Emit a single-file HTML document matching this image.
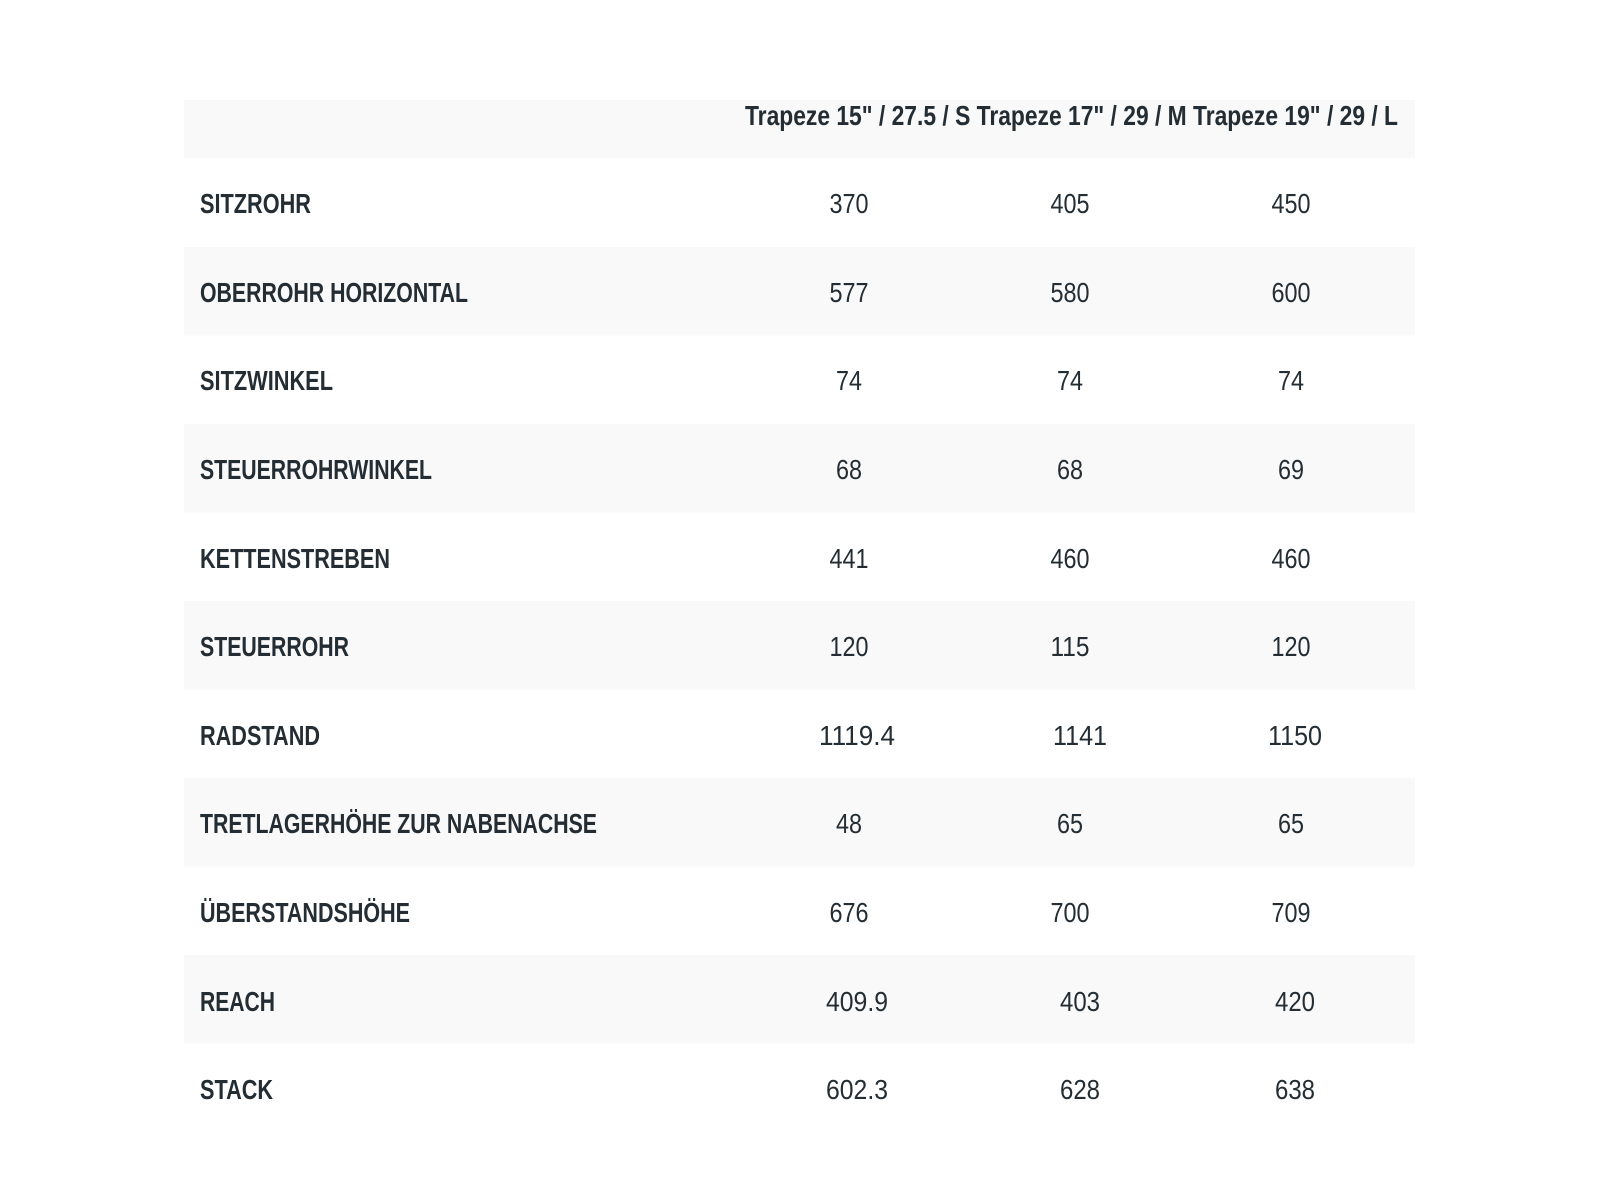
<!DOCTYPE html>
<html><head><meta charset="utf-8"><style>
html,body{margin:0;padding:0;background:#fff;width:1600px;height:1200px;overflow:hidden}
svg{display:block}
text{font-family:"Liberation Sans Narrow","Liberation Sans",sans-serif;fill:#232d33;font-size:28px}
.b{font-weight:bold}
</style></head><body>
<svg width="1600" height="1200" xmlns="http://www.w3.org/2000/svg">
<rect x="0" y="0" width="1600" height="1200" fill="#fff"/>
<rect x="184" y="100" width="1231" height="58" fill="#f9f9f9"/>
<rect x="184" y="247" width="1231" height="88.5" fill="#f9f9f9"/>
<rect x="184" y="424" width="1231" height="88.5" fill="#f9f9f9"/>
<rect x="184" y="601" width="1231" height="88.5" fill="#f9f9f9"/>
<rect x="184" y="778" width="1231" height="88.5" fill="#f9f9f9"/>
<rect x="184" y="955" width="1231" height="88.5" fill="#f9f9f9"/>
<text class="b" x="745" y="125" textLength="653" lengthAdjust="spacingAndGlyphs">Trapeze 15" / 27.5 / S Trapeze 17" / 29 / M Trapeze 19" / 29 / L</text>

<g class="b">
<text class="b" x="200" y="213" textLength="111" lengthAdjust="spacingAndGlyphs">SITZROHR</text>
<text class="b" x="200" y="302" textLength="268" lengthAdjust="spacingAndGlyphs">OBERROHR HORIZONTAL</text>
<text class="b" x="200" y="390" textLength="133" lengthAdjust="spacingAndGlyphs">SITZWINKEL</text>
<text class="b" x="200" y="479" textLength="232" lengthAdjust="spacingAndGlyphs">STEUERROHRWINKEL</text>
<text class="b" x="200" y="568" textLength="190" lengthAdjust="spacingAndGlyphs">KETTENSTREBEN</text>
<text class="b" x="200" y="656" textLength="149" lengthAdjust="spacingAndGlyphs">STEUERROHR</text>
<text class="b" x="200" y="745" textLength="120" lengthAdjust="spacingAndGlyphs">RADSTAND</text>
<text class="b" x="200" y="833" textLength="397" lengthAdjust="spacingAndGlyphs">TRETLAGERHÖHE ZUR NABENACHSE</text>
<text class="b" x="200" y="922" textLength="210" lengthAdjust="spacingAndGlyphs">ÜBERSTANDSHÖHE</text>
<text class="b" x="200" y="1011" textLength="75" lengthAdjust="spacingAndGlyphs">REACH</text>
<text class="b" x="200" y="1099" textLength="73" lengthAdjust="spacingAndGlyphs">STACK</text>
</g>

<g text-anchor="middle">
<text x="849" y="213" textLength="39" lengthAdjust="spacingAndGlyphs">370</text>
<text x="1070" y="213" textLength="39" lengthAdjust="spacingAndGlyphs">405</text>
<text x="1291" y="213" textLength="39" lengthAdjust="spacingAndGlyphs">450</text>

<text x="849" y="302" textLength="39" lengthAdjust="spacingAndGlyphs">577</text>
<text x="1070" y="302" textLength="39" lengthAdjust="spacingAndGlyphs">580</text>
<text x="1291" y="302" textLength="39" lengthAdjust="spacingAndGlyphs">600</text>

<text x="849" y="390" textLength="26" lengthAdjust="spacingAndGlyphs">74</text>
<text x="1070" y="390" textLength="26" lengthAdjust="spacingAndGlyphs">74</text>
<text x="1291" y="390" textLength="26" lengthAdjust="spacingAndGlyphs">74</text>

<text x="849" y="479" textLength="26" lengthAdjust="spacingAndGlyphs">68</text>
<text x="1070" y="479" textLength="26" lengthAdjust="spacingAndGlyphs">68</text>
<text x="1291" y="479" textLength="26" lengthAdjust="spacingAndGlyphs">69</text>

<text x="849" y="568" textLength="39" lengthAdjust="spacingAndGlyphs">441</text>
<text x="1070" y="568" textLength="39" lengthAdjust="spacingAndGlyphs">460</text>
<text x="1291" y="568" textLength="39" lengthAdjust="spacingAndGlyphs">460</text>

<text x="849" y="656" textLength="39" lengthAdjust="spacingAndGlyphs">120</text>
<text x="1070" y="656" textLength="39" lengthAdjust="spacingAndGlyphs">115</text>
<text x="1291" y="656" textLength="39" lengthAdjust="spacingAndGlyphs">120</text>

<text x="857" y="745" textLength="76" lengthAdjust="spacingAndGlyphs">1119.4</text>
<text x="1080" y="745" textLength="54" lengthAdjust="spacingAndGlyphs">1141</text>
<text x="1295" y="745" textLength="54" lengthAdjust="spacingAndGlyphs">1150</text>

<text x="849" y="833" textLength="26" lengthAdjust="spacingAndGlyphs">48</text>
<text x="1070" y="833" textLength="26" lengthAdjust="spacingAndGlyphs">65</text>
<text x="1291" y="833" textLength="26" lengthAdjust="spacingAndGlyphs">65</text>

<text x="849" y="922" textLength="39" lengthAdjust="spacingAndGlyphs">676</text>
<text x="1070" y="922" textLength="39" lengthAdjust="spacingAndGlyphs">700</text>
<text x="1291" y="922" textLength="39" lengthAdjust="spacingAndGlyphs">709</text>

<text x="857" y="1011" textLength="62" lengthAdjust="spacingAndGlyphs">409.9</text>
<text x="1080" y="1011" textLength="40" lengthAdjust="spacingAndGlyphs">403</text>
<text x="1295" y="1011" textLength="40" lengthAdjust="spacingAndGlyphs">420</text>

<text x="857" y="1099" textLength="62" lengthAdjust="spacingAndGlyphs">602.3</text>
<text x="1080" y="1099" textLength="40" lengthAdjust="spacingAndGlyphs">628</text>
<text x="1295" y="1099" textLength="40" lengthAdjust="spacingAndGlyphs">638</text>
</g>
</svg>
</body></html>
